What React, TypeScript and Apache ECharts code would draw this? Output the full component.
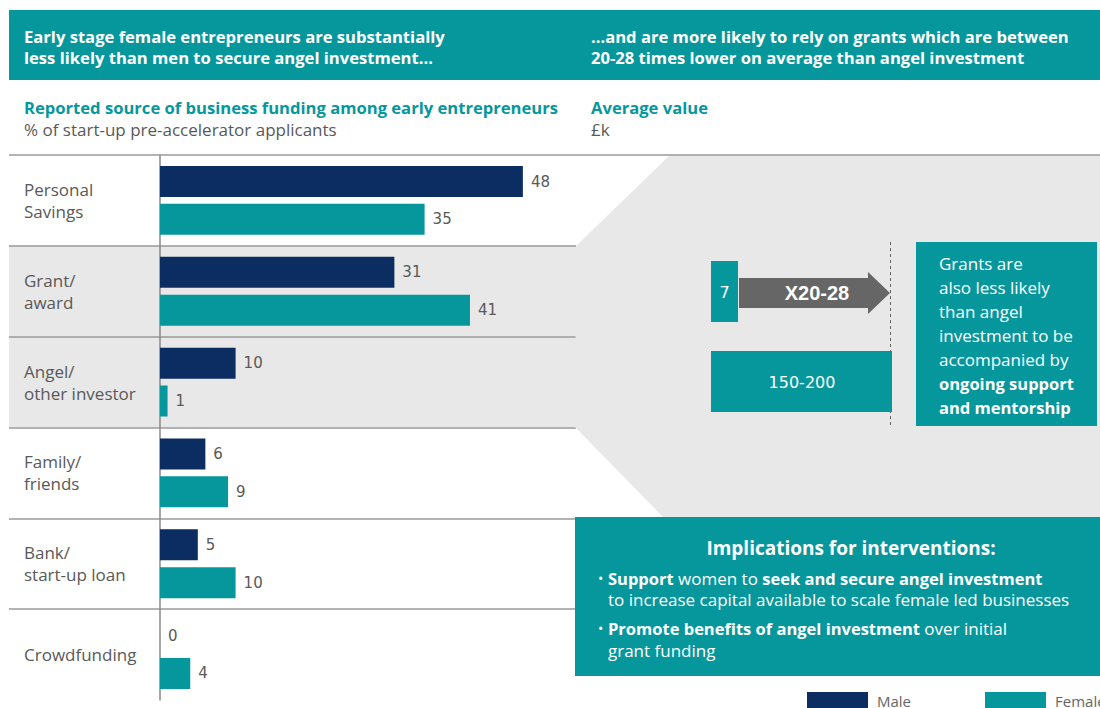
import React, { useEffect, useRef } from "react";
import * as echarts from "echarts";

const categories = [
  "Personal\nSavings",
  "Grant/\naward",
  "Angel/\nother investor",
  "Family/\nfriends",
  "Bank/\nstart-up loan",
  "Crowdfunding",
];
const seriesNames = ["Male", "Female"];
const maleValues = [48, 31, 10, 6, 5, 0];
const femaleValues = [35, 41, 1, 9, 10, 4];
const grantValue = "7";
const angelValue = "150-200";
const multipleLabel = "X20-28";

const TEAL = "#06979D";
const NAVY = "#0B2D62";
const GREY_BG = "#E8E8E8";
const LINE = "#9A9A9A";
const TXT = "#595959";
const FONT = "'Open Sans', Lato, sans-serif";
const NUMFONT = "'DejaVu Sans', Verdana, sans-serif";

function txt(x: number, y: number, text: string, opts: any = {}) {
  return {
    type: "text",
    x,
    y,
    z: 20,
    style: {
      text,
      fill: opts.fill || "#fff",
      fontSize: opts.fontSize || 16,
      fontFamily: opts.fontFamily || FONT,
      fontWeight: opts.fontWeight || "normal",
      align: opts.align || "left",
      verticalAlign: "middle",
      rich: opts.rich,
    },
  };
}

export default function App() {
  const ref = useRef<HTMLDivElement>(null);
  useEffect(() => {
    if (!ref.current) return;
    const chart = echarts.init(ref.current, null, { renderer: "svg" });
    const boldRich = {
      b: { fontWeight: "bold", fontSize: 16.5, fontFamily: FONT, fill: "#fff", color: "#fff" },
    };
    const legendText = { color: "#666", fontSize: 15, fontFamily: FONT, padding: [0, 0, 0, 4] };
    const option: any = {
      animation: false,
      backgroundColor: "#fff",
      grid: [
        { left: 9, width: 567, top: 155, height: 545, containLabel: false },
        { left: 160, width: 378, top: 155, height: 545, containLabel: false },
      ],
      xAxis: [
        { type: "value", gridIndex: 0, show: false, min: 0, max: 1 },
        { type: "value", gridIndex: 1, show: false, min: 0, max: 50 },
      ],
      yAxis: [
        {
          type: "category",
          gridIndex: 0,
          data: categories,
          inverse: true,
          axisLine: { show: false },
          axisTick: { show: false },
          axisLabel: { show: false },
          splitLine: {
            show: true,
            showMinLine: false,
            showMaxLine: false,
            lineStyle: { color: LINE, width: 1.5 },
          },
          splitArea: {
            show: true,
            areaStyle: {
              color: [
                "rgba(0,0,0,0)",
                GREY_BG,
                GREY_BG,
                "rgba(0,0,0,0)",
                "rgba(0,0,0,0)",
                "rgba(0,0,0,0)",
              ],
            },
          },
        },
        {
          type: "category",
          gridIndex: 1,
          data: categories,
          inverse: true,
          axisLine: { show: true, lineStyle: { color: "#8A8A8A", width: 1.5 } },
          axisTick: { show: false },
          axisLabel: {
            align: "left",
            margin: 136,
            color: TXT,
            fontSize: 17,
            lineHeight: 22,
            fontFamily: FONT,
          },
          splitLine: { show: false },
        },
      ],
      legend: [
        {
          data: [seriesNames[0]],
          left: 807,
          top: 692,
          padding: 0,
          icon: "rect",
          itemWidth: 61,
          itemHeight: 18,
          textStyle: legendText,
        },
        {
          data: [seriesNames[1]],
          left: 985,
          top: 692,
          padding: 0,
          icon: "rect",
          itemWidth: 61,
          itemHeight: 18,
          textStyle: legendText,
        },
      ],
      series: [
        {
          name: seriesNames[0],
          type: "bar",
          xAxisIndex: 1,
          yAxisIndex: 1,
          data: maleValues,
          barWidth: 31,
          barGap: "22%",
          itemStyle: { color: NAVY },
          label: {
            show: true,
            position: "right",
            distance: 8,
            color: TXT,
            fontSize: 15,
            fontFamily: NUMFONT,
          },
        },
        {
          name: seriesNames[1],
          type: "bar",
          xAxisIndex: 1,
          yAxisIndex: 1,
          data: femaleValues,
          barWidth: 31,
          barGap: "22%",
          itemStyle: { color: TEAL },
          label: {
            show: true,
            position: "right",
            distance: 8,
            color: TXT,
            fontSize: 15,
            fontFamily: NUMFONT,
          },
        },
      ],
      graphic: [
        // header
        { type: "rect", z: 5, shape: { x: 9, y: 10, width: 1091, height: 70 }, style: { fill: TEAL } },
        txt(24, 36, "Early stage female entrepreneurs are substantially", { fontWeight: "bold", fontSize: 16.6 }),
        txt(24, 57, "less likely than men to secure angel investment…", { fontWeight: "bold", fontSize: 16.6 }),
        txt(591, 36, "…and are more likely to rely on grants which are between", { fontWeight: "bold", fontSize: 16.6 }),
        txt(591, 57, "20-28 times lower on average than angel investment", { fontWeight: "bold", fontSize: 16.6 }),
        // subtitles
        txt(24, 107, "Reported source of business funding among early entrepreneurs", { fontWeight: "bold", fontSize: 16.6, fill: TEAL }),
        txt(24, 129, "% of start-up pre-accelerator applicants", { fontSize: 17, fill: TXT }),
        txt(591, 107, "Average value", { fontWeight: "bold", fontSize: 16.6, fill: TEAL }),
        txt(591, 129, "£k", { fontSize: 17, fill: TXT }),
        // grey funnel
        {
          type: "polygon",
          z: 1,
          shape: { points: [[576, 246], [670, 155], [1100, 155], [1100, 517], [663, 517], [575, 427]] },
          style: { fill: GREY_BG },
        },
        // top line
        { type: "line", z: 6, shape: { x1: 9, y1: 155, x2: 1100, y2: 155 }, style: { stroke: LINE, lineWidth: 1.5 } },
        // dashed line
        { type: "line", z: 6, shape: { x1: 890.5, y1: 242, x2: 890.5, y2: 427 }, style: { stroke: "#666", lineWidth: 1, lineDash: [3, 3] } },
        // grant box
        { type: "rect", z: 7, shape: { x: 711, y: 261, width: 27, height: 61 }, style: { fill: TEAL } },
        txt(724.5, 292, grantValue, { fontSize: 16, fontFamily: NUMFONT, align: "center" }),
        // arrow
        {
          type: "polygon",
          z: 7,
          shape: { points: [[739, 278], [868, 278], [868, 272], [890, 293], [868, 314], [868, 308], [739, 308]] },
          style: { fill: "#666666" },
        },
        txt(817, 293, multipleLabel, { fontSize: 20, fontWeight: "bold", fontFamily: "'Liberation Sans', Arial, sans-serif", align: "center" }),
        // angel box
        { type: "rect", z: 7, shape: { x: 711, y: 351, width: 181, height: 61 }, style: { fill: TEAL } },
        txt(802, 382, angelValue, { fontSize: 16, fontFamily: NUMFONT, align: "center" }),
        // right callout
        { type: "rect", z: 7, shape: { x: 916, y: 242, width: 181, height: 184 }, style: { fill: TEAL } },
        txt(939, 263, "Grants are", { fontSize: 17 }),
        txt(939, 287, "also less likely", { fontSize: 17 }),
        txt(939, 311, "than angel", { fontSize: 17 }),
        txt(939, 335, "investment to be", { fontSize: 17 }),
        txt(939, 359, "accompanied by", { fontSize: 17 }),
        txt(939, 383, "ongoing support", { fontSize: 16.5, fontWeight: "bold" }),
        txt(939, 407, "and mentorship", { fontSize: 16.5, fontWeight: "bold" }),
        // implications box
        { type: "rect", z: 7, shape: { x: 575, y: 517, width: 525, height: 159 }, style: { fill: TEAL } },
        txt(851, 548, "Implications for interventions:", { fontSize: 19, fontWeight: "bold", align: "center" }),
        txt(598, 578, "•", { fontSize: 14 }),
        txt(608, 578, "{b|Support} women to {b|seek and secure angel investment}", { fontSize: 17, rich: boldRich }),
        txt(608, 599, "to increase capital available to scale female led businesses", { fontSize: 17 }),
        txt(598, 628, "•", { fontSize: 14 }),
        txt(608, 628, "{b|Promote benefits of angel investment} over initial", { fontSize: 17, rich: boldRich }),
        txt(608, 650, "grant funding", { fontSize: 17 }),
      ],
    };
    chart.setOption(option);
    return () => chart.dispose();
  }, []);
  return (
    <div
      ref={ref}
      style={{ position: "absolute", left: 0, top: 0, width: 1100, height: 708 }}
    />
  );
}
